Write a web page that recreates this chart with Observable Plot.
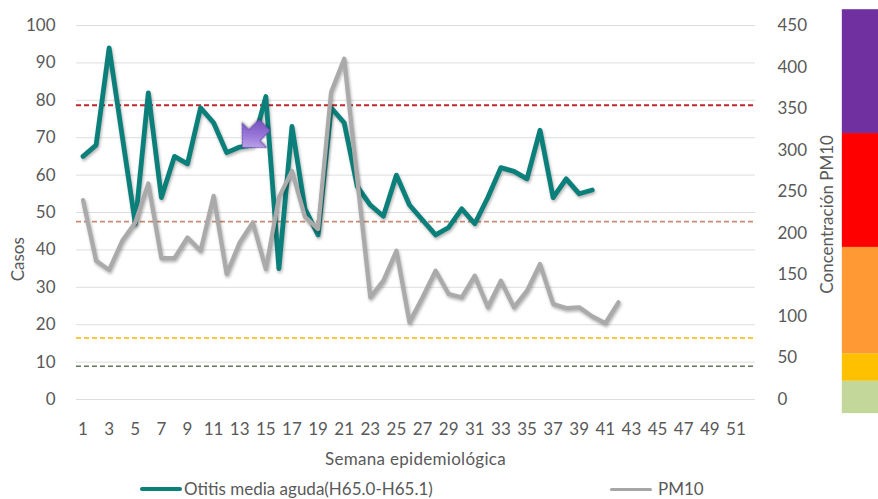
<!DOCTYPE html>
<html><head><meta charset="utf-8">
<script src="https://cdn.jsdelivr.net/npm/d3@7"></script>
<script src="https://cdn.jsdelivr.net/npm/@observablehq/plot@0.6"></script>
<style>
body{margin:0;background:#fff;font-family:Lato,"Noto Sans",sans-serif;color:#595959;}
#wrap{position:relative;width:878px;height:499px;overflow:hidden;background:#fff}
#xtitle{position:absolute;left:76px;width:679px;top:449px;text-align:center;font-size:17px;line-height:20px;letter-spacing:0.3px}
.leg{position:absolute;top:479px;font-size:17px;line-height:20px;display:flex;align-items:center;white-space:nowrap}
.sw{display:inline-block;width:42px;margin-right:2px;border-radius:2px}
</style></head>
<body><div id="wrap"><div id="chart"></div>
<div id="xtitle">Semana epidemiológica</div>
<div class="leg" style="left:140px"><span class="sw" style="background:#0b7f7a;height:4px"></span>Otitis media aguda(H65.0-H65.1)</div>
<div class="leg" style="left:610px"><span class="sw" style="background:#a6a6a6;height:3px;margin-right:6px"></span>PM10</div>
</div>
<script>
// Semanas epidemiológicas
const semanasOtitis = [1,2,3,4,5,6,7,8,9,10,11,12,13,14,15,16,17,18,19,20,21,22,23,24,25,26,27,28,29,30,31,32,33,34,35,36,37,38,39,40];
const otitis = [65,68,94,70.5,47,82,54,65,63,78,74,66,67.5,68,81,35,73,51,44,78,74,57,52,49,60,52,48,44,46,51,47,54,62,61,59,72,54,59,55,56];
const semanasPM10 = [1,2,3,4,5,6,7,8,9,10,11,12,13,14,15,16,17,18,19,20,21,22,23,24,25,26,27,28,29,30,31,32,33,34,35,36,37,38,39,40,41,42];
const pm10 = [240,167,156,191,213,260,170,170,195,179,245,151,189,213,157,243,275,220,205,370,410,265,123,143,179,93,123,155,127,123,149,111,143,111,131,163,115,110,111,100,92,117];
// Axis ticks
const casosTicks = [0,10,20,30,40,50,60,70,80,90,100];
const pm10Ticks = [0,50,100,150,200,250,300,350,400,450];
const xTicks = [1,3,5,7,9,11,13,15,17,19,21,23,25,27,29,31,33,35,37,39,41,43,45,47,49,51];
// Threshold lines (PM10 units)
const umbrales = [354, 214, 74, 40];
const umbralColores = ["#c0282d", "#c98a70", "#f5b800", "#66785a"];
// Colour scale bar (PM10 units)
const bandaLimites = [-17, 22, 55, 183, 320, 469];
const bandaColores = ["#c4d79b", "#ffc000", "#ff9933", "#ff0000", "#7030a0"];
// Arrow pointer
const flecha = [{s: 13.2, v: 67.4}];

const ratio = 450 / 100;
const otitisData = semanasOtitis.map((s, i) => ({s, v: otitis[i]}));
const pm10Data = semanasPM10.map((s, i) => ({s, v: pm10[i] / ratio}));
const bandas = bandaColores.map((c, i) => ({lo: bandaLimites[i], hi: bandaLimites[i + 1], c}));

const blockArrow = {
  draw(ctx, l) {
    const hl = l * 0.55, hw = l * 0.56, w = l * 0.25;
    ctx.moveTo(-w, 0);
    ctx.lineTo(-w, -(l - hl));
    ctx.lineTo(-hw, -(l - hl));
    ctx.lineTo(0, -l);
    ctx.lineTo(hw, -(l - hl));
    ctx.lineTo(w, -(l - hl));
    ctx.lineTo(w, 0);
    ctx.closePath();
  }
};

const plot = Plot.plot({
  width: 878, height: 440,
  marginTop: 25, marginBottom: 41, marginLeft: 76, marginRight: 123,
  style: {fontFamily: "Lato, 'Noto Sans', sans-serif", fontSize: "17px", color: "#595959", background: "white", overflow: "visible"},
  x: {domain: [0.5, 52.5]},
  y: {domain: [0, 100]},
  marks: [
    Plot.rect(bandas, {x1: 59.15, x2: 62.6, y1: d => d.lo / ratio, y2: d => d.hi / ratio, fill: d => d.c}),
    Plot.gridY(casosTicks, {stroke: "#dedede", strokeOpacity: 1}),
    Plot.axisY({ticks: casosTicks, tickSize: 0, tickPadding: 21, label: null}),
    Plot.axisY({anchor: "right", ticks: pm10Ticks.map(v => v / ratio), tickFormat: d => String(Math.round(d * ratio)), tickSize: 0, tickPadding: 22, label: null}),
    Plot.axisX({ticks: xTicks, tickSize: 0, tickPadding: 23, label: null}),
    ...umbrales.map((u, i) => Plot.ruleY([u / ratio], {stroke: umbralColores[i], strokeWidth: i === 0 ? 2 : 1.6, strokeDasharray: "5,3"})),
    Plot.line(otitisData, {x: "s", y: "v", stroke: "#0b7f7a", strokeWidth: 4.8}),
    Plot.line(pm10Data, {x: "s", y: "v", stroke: "#aaaaaa", strokeWidth: 4.2}),
    Plot.vector(flecha, {x: "s", y: "v", length: 31, rotate: 225, anchor: "end", shape: blockArrow, fill: "#9677d4", stroke: "#6d4fb3", strokeWidth: 1}),
    Plot.text(["Casos"], {frameAnchor: "left", dx: -58, y: 37.5, rotate: -90, textAnchor: "middle", text: d => d, fontSize: 17}),
    Plot.text(["Concentración PM10"], {frameAnchor: "right", dx: 72, y: 49.5, rotate: -90, textAnchor: "middle", text: d => d, fontSize: 17})
  ]
});
// soft shadows like the original, and gradient fill for the arrow
plot.querySelectorAll('g[aria-label="line"] path').forEach(p => p.style.filter = "drop-shadow(1px 2px 1.5px rgba(0,0,0,0.3))");
const ns = "http://www.w3.org/2000/svg";
const defs = document.createElementNS(ns, "defs");
defs.innerHTML = '<linearGradient id="arrowGrad" x1="0" y1="0" x2="1" y2="1"><stop offset="0" stop-color="#d9c9f5"/><stop offset="0.55" stop-color="#9573d6"/><stop offset="1" stop-color="#6b45b8"/></linearGradient>';
plot.insertBefore(defs, plot.firstChild);
plot.querySelectorAll('g[aria-label="vector"] path').forEach(p => { p.setAttribute("fill", "url(#arrowGrad)"); p.style.filter = "drop-shadow(1px 1px 1px rgba(0,0,0,0.3))"; });
document.getElementById("chart").appendChild(plot);
</script>
</body></html>
